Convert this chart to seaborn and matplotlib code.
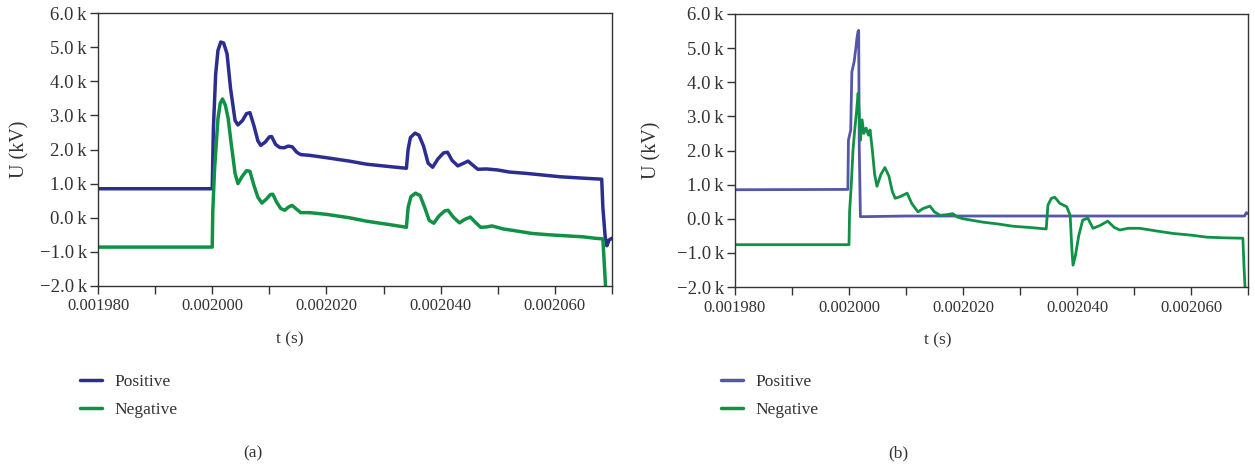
import numpy as np
import pandas as pd
import seaborn as sns
import matplotlib
matplotlib.use("Agg")
import matplotlib.pyplot as plt
from matplotlib.ticker import FixedLocator, FuncFormatter

# ---- data (t in s, U in kV*1000 shown as "k") ----
t_pos_a = [0.001980, 0.0020000, 0.0020002, 0.0020006, 0.0020010, 0.0020015, 0.0020020,
           0.0020026, 0.0020032, 0.0020040, 0.0020045, 0.0020053, 0.0020060, 0.0020066,
           0.0020073, 0.0020080, 0.0020085, 0.0020093, 0.0020100, 0.0020104, 0.0020111,
           0.0020118, 0.0020126, 0.0020133, 0.0020140, 0.0020148, 0.0020155, 0.002017,
           0.002020, 0.002024, 0.002027, 0.002031, 0.0020340, 0.0020343, 0.0020347,
           0.0020355, 0.0020362, 0.0020370, 0.0020378, 0.0020386, 0.0020395, 0.0020405,
           0.0020412, 0.0020420, 0.0020430, 0.0020438, 0.0020448, 0.0020455, 0.0020465,
           0.002048, 0.002050, 0.002052, 0.002055, 0.002058, 0.002061, 0.002064, 0.002066,
           0.0020682, 0.0020684, 0.0020688, 0.0020691, 0.0020695, 0.0020700]
u_pos_a = [0.85, 0.85, 2.6, 4.2, 4.9, 5.15, 5.12,
           4.8, 3.8, 2.85, 2.72, 2.85, 3.05, 3.08,
           2.7, 2.25, 2.12, 2.22, 2.37, 2.38, 2.15,
           2.06, 2.05, 2.1, 2.08, 1.92, 1.85, 1.83,
           1.76, 1.66, 1.57, 1.50, 1.45, 2.0, 2.35,
           2.48, 2.42, 2.1, 1.6, 1.48, 1.72, 1.9,
           1.92, 1.68, 1.52, 1.58, 1.66, 1.56, 1.42,
           1.43, 1.40, 1.34, 1.30, 1.25, 1.20, 1.17, 1.15,
           1.13, 0.3, -0.55, -0.82, -0.65, -0.6]

t_neg_a = [0.001980, 0.0020000, 0.0020001, 0.0020004, 0.0020010, 0.0020014, 0.0020018,
           0.0020023, 0.0020028, 0.0020033, 0.0020040, 0.0020045, 0.0020052, 0.0020060,
           0.0020066, 0.0020073, 0.0020080, 0.0020087, 0.0020095, 0.0020102, 0.0020106,
           0.0020113, 0.0020120, 0.0020127, 0.0020134, 0.0020140, 0.0020147, 0.0020155,
           0.002017, 0.002020, 0.002024, 0.002027, 0.002031, 0.002034, 0.0020343,
           0.0020348, 0.0020356, 0.0020364, 0.0020372, 0.0020380, 0.0020388, 0.0020397,
           0.0020407, 0.0020413, 0.0020422, 0.0020433, 0.0020442, 0.0020452, 0.0020460,
           0.0020470, 0.002048, 0.002049, 0.002051, 0.002053, 0.002056, 0.002059,
           0.002062, 0.002065, 0.002067, 0.0020684, 0.0020686, 0.0020689]
u_neg_a = [-0.86, -0.86, 0.2, 1.4, 2.9, 3.35, 3.48,
           3.3, 2.9, 2.2, 1.3, 1.0, 1.2, 1.38,
           1.36, 0.95, 0.6, 0.43, 0.55, 0.68, 0.69,
           0.45, 0.27, 0.22, 0.32, 0.36, 0.26, 0.15,
           0.15, 0.1, 0.0, -0.1, -0.2, -0.28, 0.3,
           0.62, 0.72, 0.65, 0.3, -0.08, -0.16, 0.05,
           0.2, 0.22, 0.02, -0.15, -0.05, 0.02, -0.12,
           -0.28, -0.27, -0.24, -0.33, -0.38, -0.46, -0.5,
           -0.53, -0.56, -0.6, -0.62, -1.2, -2.1]

t_pos_b = [0.001980, 0.0019998, 0.0019999, 0.0020003, 0.0020005, 0.0020009, 0.0020012,
           0.0020014, 0.0020016, 0.0020017, 0.0020018, 0.0020020, 0.0020100, 0.0020694,
           0.0020697, 0.0020700]
u_pos_b = [0.85, 0.86, 2.3, 2.6, 4.3, 4.6, 5.0,
           5.3, 5.5, 5.52, 2.1, 0.06, 0.08, 0.08,
           0.18, 0.15]

t_neg_b = [0.001980, 0.0020000, 0.0020001, 0.0020004, 0.0020007, 0.0020010, 0.0020013,
           0.0020016, 0.0020018, 0.0020020, 0.0020023, 0.0020026, 0.0020030, 0.0020034,
           0.0020037, 0.0020041, 0.0020045, 0.0020049, 0.0020056, 0.0020063, 0.0020070,
           0.0020076, 0.0020081, 0.0020090, 0.0020102, 0.0020110, 0.0020121, 0.0020130,
           0.0020142, 0.0020150, 0.0020160, 0.0020172, 0.0020182, 0.0020190, 0.0020200,
           0.0020235, 0.0020260, 0.0020288, 0.0020320, 0.0020346, 0.0020349, 0.0020355,
           0.0020361, 0.0020370, 0.0020382, 0.0020388, 0.0020391, 0.0020393, 0.0020397,
           0.0020403, 0.0020410, 0.0020419, 0.0020428, 0.0020440, 0.0020454, 0.0020465,
           0.0020475, 0.0020490, 0.0020510, 0.0020540, 0.0020568, 0.0020600, 0.0020628,
           0.0020660, 0.0020691, 0.0020693, 0.0020695]
u_neg_b = [-0.76, -0.76, 0.2, 1.0, 2.0, 2.6, 3.1,
           3.68, 3.0, 2.3, 2.9, 2.5, 2.66, 2.45,
           2.6, 2.0, 1.3, 0.95, 1.3, 1.5, 1.25,
           0.8, 0.6, 0.65, 0.75, 0.45, 0.2, 0.3,
           0.37, 0.2, 0.1, 0.12, 0.15, 0.05, 0.0,
           -0.1, -0.15, -0.22, -0.26, -0.3, 0.4, 0.6,
           0.63, 0.45, 0.35, 0.1, -0.9, -1.36, -1.1,
           -0.5, -0.04, 0.02, -0.28, -0.2, -0.07, -0.25,
           -0.33, -0.28, -0.28, -0.36, -0.43, -0.48, -0.54,
           -0.56, -0.57, -1.4, -2.1]

x_major = [0.001980, 0.002000, 0.002020, 0.002040, 0.002060]
x_minor = [0.001990, 0.002010, 0.002030, 0.002050, 0.002070]
y_ticks = [-2, -1, 0, 1, 2, 3, 4, 5, 6]
series_names = ["Positive", "Negative"]
panel_captions = ["(a)", "(b)"]

# ---- style ----
sns.set_style("white")
plt.rcParams["font.family"] = ["Liberation Serif", "DejaVu Serif"]
plt.rcParams["font.size"] = 12

fig = plt.figure(figsize=(12.55, 4.7), dpi=100)
ax_a = fig.add_axes([98 / 1255, 184 / 470, 514 / 1255, 273 / 470])
ax_b = fig.add_axes([735 / 1255, 183 / 470, 513 / 1255, 273 / 470])

panels = [
    (ax_a, t_pos_a, u_pos_a, t_neg_a, u_neg_a, "#2b2e8f", "#119145", 2.5),
    (ax_b, t_pos_b, u_pos_b, t_neg_b, u_neg_b, "#5556a8", "#119145", 2.0),
]


def kfmt(v, pos):
    s = f"{v:.1f}\u2009k"
    return s.replace("-", "\u2212")


for i, (ax, tp, up, tn, un, cp, cn, lw) in enumerate(panels):
    dfp = pd.DataFrame({"t": tp, "U": up})
    dfn = pd.DataFrame({"t": tn, "U": un})
    sns.lineplot(data=dfp, x="t", y="U", ax=ax, color=cp, lw=lw,
                 estimator=None, sort=False, label=series_names[0])
    sns.lineplot(data=dfn, x="t", y="U", ax=ax, color=cn, lw=lw,
                 estimator=None, sort=False, label=series_names[1])
    ax.set_xlim(0.001980, 0.002070)
    ax.set_ylim(-2, 6)
    ax.xaxis.set_major_locator(FixedLocator(x_major))
    ax.xaxis.set_minor_locator(FixedLocator(x_minor))
    ax.yaxis.set_major_locator(FixedLocator(y_ticks))
    ax.xaxis.set_major_formatter(FuncFormatter(lambda v, p: f"{v:.6f}"))
    ax.yaxis.set_major_formatter(FuncFormatter(kfmt))
    ax.tick_params(axis="both", which="both", direction="out", length=6,
                   width=1, color="#333333", labelcolor="#333333")
    ax.tick_params(axis="x", which="both", bottom=True, top=False, pad=3, labelsize=12)
    ax.tick_params(axis="y", left=True, right=False, pad=2, labelsize=13.5)
    for sp in ax.spines.values():
        sp.set_color("#333333")
        sp.set_linewidth(1)
    ax.set_xlabel("t (s)", color="#333333", fontsize=12.5)
    ax.set_ylabel("U (kV)", color="#333333", fontsize=14.5)
    ax.get_legend().remove()

ax_a.xaxis.set_label_coords((290 - 98) / 514, -0.165)
ax_b.xaxis.set_label_coords((938 - 735) / 513, -0.165)
ax_a.yaxis.set_label_coords(-0.134, 0.5)
ax_b.yaxis.set_label_coords(-0.143, 0.5)

# legends below each panel
for ax, lx, cap_x in [(ax_a, 80, 253), (ax_b, 721, 898)]:
    h, l = ax.get_legend_handles_labels()
    leg = fig.legend(h, l, loc="upper left", bbox_to_anchor=(lx / 1255, 1 - 374 / 470),
                     frameon=False, fontsize=12.5, handlelength=1.25, handletextpad=0.75,
                     labelspacing=0.7, borderpad=0, borderaxespad=0)
    for txt in leg.get_texts():
        txt.set_color("#333333")
    for line in leg.get_lines():
        line.set_linewidth(2.5)
    fig.text(cap_x / 1255, 1 - 453 / 470, panel_captions[0 if ax is ax_a else 1],
             ha="center", va="center", fontsize=12.5, color="#333333")

fig.savefig("out.png", dpi=100)
